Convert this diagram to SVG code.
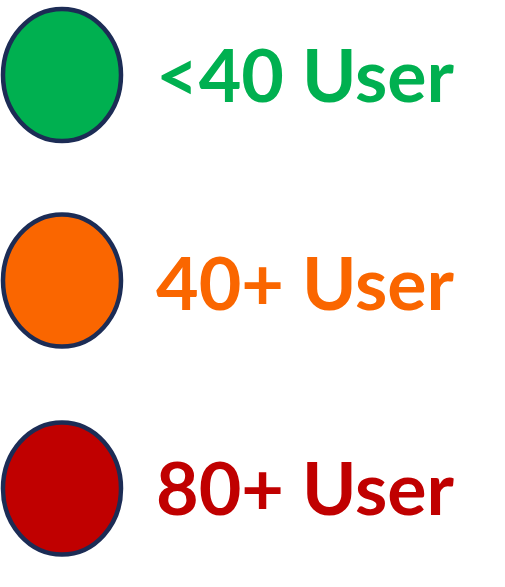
<svg xmlns="http://www.w3.org/2000/svg" width="505" height="587" viewBox="0 0 505 587">
<style>
.dot{stroke:#1C2C55;stroke-width:4.5}
.lbl{font-family:Lato,"Open Sans","Liberation Sans",sans-serif;font-weight:bold;font-size:73px}
</style>
<rect width="505" height="587" fill="#ffffff"/>
<g id="legend-green">
<ellipse class="dot" cx="62" cy="75" rx="59" ry="66" fill="#00B050"/>
<text class="lbl" x="156" y="102" fill="#00B050" textLength="298" lengthAdjust="spacingAndGlyphs">&lt;40 User</text>
</g>
<g id="legend-orange">
<ellipse class="dot" cx="62" cy="280.5" rx="59" ry="66" fill="#FA6600"/>
<text class="lbl" x="156" y="310" fill="#FA6600" textLength="298" lengthAdjust="spacingAndGlyphs">40+ User</text>
</g>
<g id="legend-red">
<ellipse class="dot" cx="62" cy="488.5" rx="59" ry="66" fill="#C00000"/>
<text class="lbl" x="156" y="515" fill="#C00000" textLength="298" lengthAdjust="spacingAndGlyphs">80+ User</text>
</g>
</svg>
